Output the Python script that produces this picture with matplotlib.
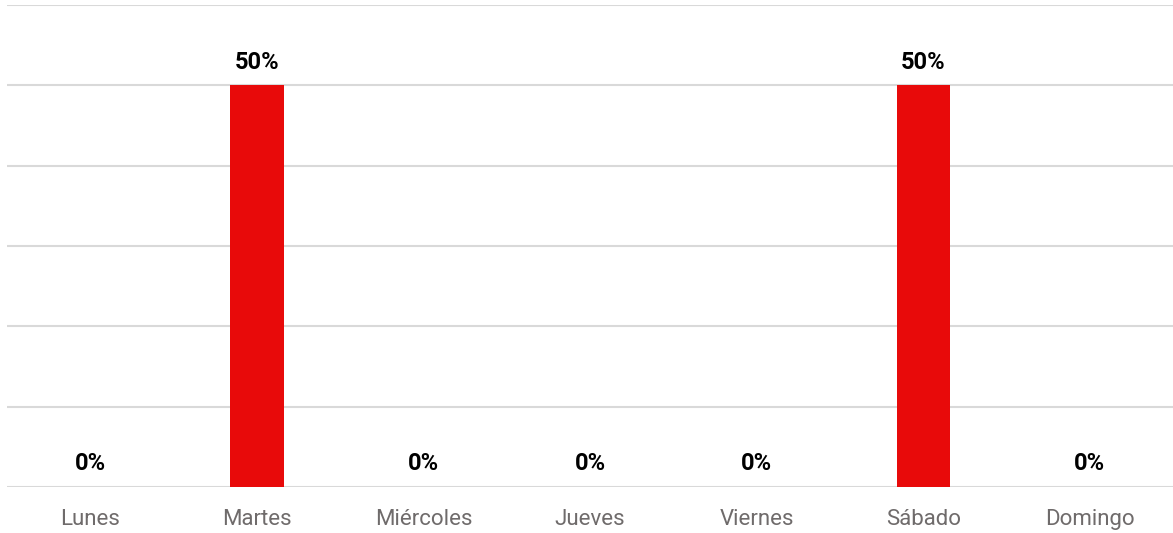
import matplotlib.pyplot as plt
from matplotlib import font_manager

# Day labels and share of values (percent)
dias = ['Lunes', 'Martes', 'Miércoles', 'Jueves', 'Viernes', 'Sábado', 'Domingo']
valores = [0, 50, 0, 0, 0, 50, 0]

BAR_COLOR = '#E80A0A'
GRID_COLOR = '#D9D9D9'
TICK_COLOR = '#6F6B6B'

names = {f.name for f in font_manager.fontManager.ttflist}
fam = 'Liberation Sans Narrow' if 'Liberation Sans Narrow' in names else 'Roboto'
plt.rcParams['font.family'] = [fam, 'DejaVu Sans']

fig = plt.figure(figsize=(11.73, 5.33), dpi=100)
ax = fig.add_axes([0.006, 0.0863, 0.994, 0.9043])

x = list(range(len(dias)))
bars = ax.bar(x, valores, width=0.32, color=BAR_COLOR, zorder=3)

# Value labels above the bars
for xi, v in zip(x, valores):
    ax.text(xi, v + 1.45, f'{v}%', ha='center', va='bottom',
            fontsize=17, fontweight='bold', color='black')

ax.set_xlim(-0.5, len(dias) - 0.5)
ax.set_ylim(0, 60)
ax.set_yticks(range(0, 61, 10))
ax.yaxis.grid(True, color=GRID_COLOR, linewidth=1.5, zorder=0)
ax.tick_params(axis='y', left=False, labelleft=False)
ax.set_xticks(x)
ax.set_xticklabels(dias, fontsize=16, color=TICK_COLOR)
ax.tick_params(axis='x', length=0, pad=16)
for s in ax.spines.values():
    s.set_visible(False)

fig.savefig('out.png', dpi=100)
